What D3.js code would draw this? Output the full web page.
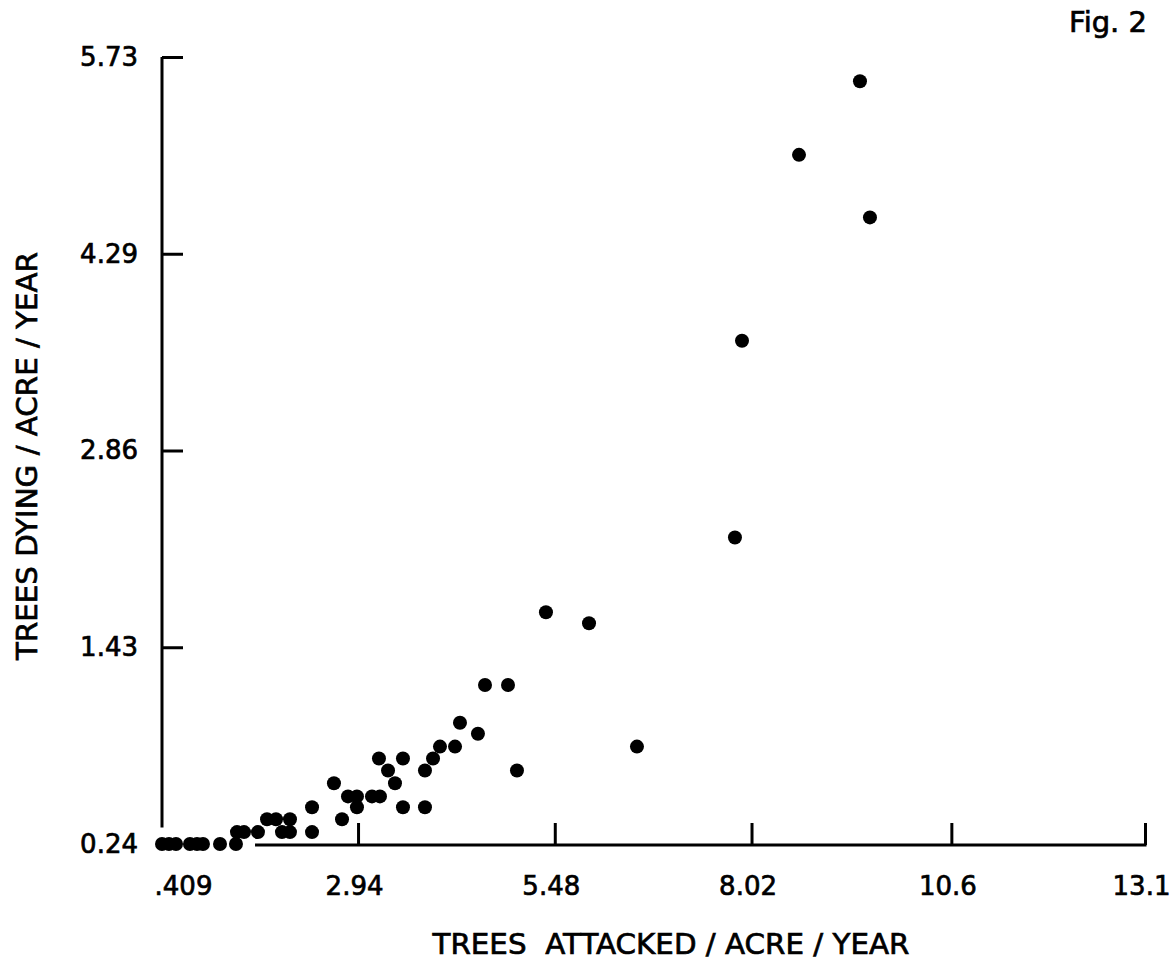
<!DOCTYPE html>
<html>
<head>
<meta charset="utf-8">
<script src="https://cdn.jsdelivr.net/npm/d3@7"></script>
<style>
  body { margin: 0; background: #fff; }
  text { font-family: "DejaVu Sans", sans-serif; fill: #000; stroke: #000; stroke-width: 0.7px; }
</style>
</head>
<body>
<svg id="chart_svg"></svg>
<script>
// Tick values as printed on the figure
const xTicks = [0.409, 2.94, 5.48, 8.02, 10.6, 13.1];
const xTickLabels = [".409", "2.94", "5.48", "8.02", "10.6", "13.1"];
const yTicks = [0.24, 1.43, 2.86, 4.29, 5.73];
const yTickLabels = ["0.24", "1.43", "2.86", "4.29", "5.73"];

// Trees attacked / acre / year
const attacked = [
  0.409, 0.499, 0.590, 0.770, 0.861, 0.938, 1.158, 1.364,
  1.377, 1.468, 1.648, 1.958, 2.061, 2.346,
  1.765, 1.881, 2.061, 2.733,
  2.346, 2.926, 3.520, 3.804,
  2.810, 2.926, 3.120, 3.223,
  2.629, 3.417,
  3.327, 3.804, 4.992,
  3.210, 3.520, 3.908,
  3.998, 4.192, 6.541,
  4.488, 4.256,
  4.579, 4.876,
  5.922, 5.366, 7.806, 7.897, 9.549, 8.633, 9.420
];
// Trees dying / acre / year
const dying = [
  0.24, 0.24, 0.24, 0.24, 0.24, 0.24, 0.24, 0.24,
  0.312, 0.312, 0.312, 0.312, 0.312, 0.312,
  0.390, 0.390, 0.390, 0.390,
  0.462, 0.462, 0.462, 0.462,
  0.528, 0.528, 0.528, 0.528,
  0.607, 0.607,
  0.685, 0.685, 0.685,
  0.757, 0.757, 0.757,
  0.829, 0.829, 0.829,
  0.907, 0.973,
  1.202, 1.202,
  1.604, 1.684, 2.228, 3.658, 4.556, 5.014, 5.553
];

const width = 1174;
const height = 962;

const svg = d3.select("#chart_svg")
  .attr("width", width)
  .attr("height", height);

// x is linear; y labels are evenly spaced so map them piecewise
const x = d3.scaleLinear().domain([xTicks[0], xTicks[xTicks.length - 1]]).range([162, 1145]);
const yTop = 57, yBottom = 844;
const y = d3.scaleLinear()
  .domain(yTicks)
  .range(yTicks.map((d, i) => yBottom - i * (yBottom - yTop) / (yTicks.length - 1)));

// axis lines (corner left open like the original)
const xAxisStart = 1.61;
const yAxisStop = 0.34;

svg.append("line")
  .attr("x1", x(xTicks[0])).attr("x2", x(xTicks[0]))
  .attr("y1", y(yTicks[yTicks.length - 1])).attr("y2", y(yAxisStop))
  .attr("stroke", "#000").attr("stroke-width", 3);

svg.append("line")
  .attr("x1", x(xAxisStart)).attr("x2", x(xTicks[xTicks.length - 1]) + 1.5)
  .attr("y1", y(yTicks[0]) + 1).attr("y2", y(yTicks[0]) + 1)
  .attr("stroke", "#000").attr("stroke-width", 3);

// x axis ticks + labels
const gx = svg.append("g")
  .attr("transform", `translate(0,${y(yTicks[0]) + 1})`)
  .call(d3.axisBottom(x)
    .tickValues(xTicks)
    .tickFormat((d, i) => xTickLabels[i])
    .tickSize(-22)
    .tickSizeOuter(0)
    .tickPadding(32));
gx.select(".domain").remove();
gx.selectAll(".tick line")
  .attr("stroke", "#000").attr("stroke-width", 3)
  .filter(d => d === xTicks[0]).remove();
gx.selectAll(".tick text")
  .style("font-size", "26px")
  .attr("dx", d => d === xTicks[0] ? 21 : -4);

// y axis ticks + labels
const gy = svg.append("g")
  .attr("transform", `translate(${x(xTicks[0])},0)`)
  .call(d3.axisLeft(y)
    .tickValues(yTicks)
    .tickFormat((d, i) => yTickLabels[i])
    .tickSize(-21)
    .tickSizeOuter(0)
    .tickPadding(24));
gy.select(".domain").remove();
gy.selectAll(".tick line")
  .attr("stroke", "#000").attr("stroke-width", 3)
  .filter(d => d === yTicks[0]).remove();
gy.selectAll(".tick text")
  .style("font-size", "26px");

// points
svg.append("g")
  .selectAll("circle")
  .data(attacked.map((d, i) => ({ a: d, b: dying[i] })))
  .enter().append("circle")
  .attr("cx", d => x(d.a))
  .attr("cy", d => y(d.b))
  .attr("r", 7)
  .attr("fill", "#000");

// axis titles
svg.append("text")
  .attr("x", 671)
  .attr("y", 954)
  .attr("text-anchor", "middle")
  .attr("textLength", 477)
  .attr("lengthAdjust", "spacingAndGlyphs")
  .style("font-size", "29px")
  .style("white-space", "pre")
  .text("TREES  ATTACKED / ACRE / YEAR");

svg.append("text")
  .attr("transform", "translate(37,456) rotate(-90)")
  .attr("text-anchor", "middle")
  .attr("textLength", 408)
  .attr("lengthAdjust", "spacingAndGlyphs")
  .style("font-size", "29px")
  .text("TREES DYING / ACRE / YEAR");

svg.append("text")
  .attr("x", 1147)
  .attr("y", 32)
  .attr("text-anchor", "end")
  .style("font-size", "29px")
  .text("Fig. 2");
</script>
</body>
</html>
